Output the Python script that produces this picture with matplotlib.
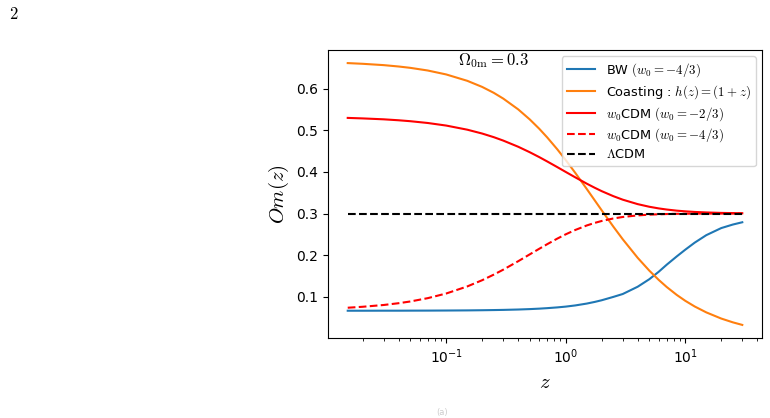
import matplotlib
matplotlib.use("Agg")
import matplotlib.pyplot as plt

plt.rcParams['mathtext.fontset'] = 'cm'

# redshift grid the curves were read at
z = [0.015, 0.02, 0.03, 0.04, 0.05, 0.07, 0.1, 0.15, 0.2, 0.25, 0.3, 0.4, 0.5, 0.6, 0.7, 0.85,
     1.0, 1.2, 1.5, 1.75, 2.0, 2.5, 3.0, 4.0, 5.0, 6.0, 7.0, 8.5, 10.0, 12.0, 15.0, 20.0, 25.0, 30.0]

om_bw = [0.0663, 0.0663, 0.0664, 0.0664, 0.0665, 0.0666, 0.0668, 0.0671, 0.0675, 0.0679, 0.0683,
         0.0692, 0.0702, 0.0713, 0.0725, 0.0743, 0.0762, 0.0790, 0.0835, 0.0875, 0.0915, 0.0995,
         0.1065, 0.1240, 0.1420, 0.1600, 0.1770, 0.1970, 0.2130, 0.2300, 0.2480, 0.2650, 0.2735,
         0.2790]
om_coast = [0.6617, 0.6600, 0.6568, 0.6535, 0.6503, 0.6439, 0.6344, 0.6191, 0.6044, 0.5902, 0.5764,
            0.5505, 0.5263, 0.5039, 0.4830, 0.4544, 0.4286, 0.3980, 0.3590, 0.3315, 0.3077, 0.2687,
            0.2381, 0.1935, 0.1628, 0.1404, 0.1233, 0.1042, 0.0902, 0.0765, 0.0623, 0.0475, 0.0384,
            0.0322]
om_w23 = [0.5299, 0.5287, 0.5265, 0.5242, 0.5220, 0.5177, 0.5115, 0.5016, 0.4923, 0.4836, 0.4754,
          0.4606, 0.4474, 0.4357, 0.4252, 0.4116, 0.4000, 0.3871, 0.3718, 0.3619, 0.3538, 0.3418,
          0.3333, 0.3226, 0.3163, 0.3123, 0.3096, 0.3069, 0.3053, 0.3038, 0.3026, 0.3015, 0.3010,
          0.3007]
om_w43 = [0.0735, 0.0758, 0.0801, 0.0844, 0.0885, 0.0965, 0.1077, 0.1247, 0.1397, 0.1531, 0.1650,
          0.1853, 0.2018, 0.2152, 0.2263, 0.2397, 0.2500, 0.2604, 0.2713, 0.2775, 0.2821, 0.2881,
          0.2917, 0.2955, 0.2973, 0.2982, 0.2988, 0.2993, 0.2995, 0.2997, 0.2998, 0.2999, 0.3000,
          0.3000]
om_lcdm = [0.3] * len(z)

fig = plt.figure(figsize=(7.7, 4.18), dpi=100)
ax = fig.add_axes([328 / 770, 1 - 338 / 418, 434 / 770, 288 / 418])

ax.plot(z, om_bw, color='#1f77b4', label=r'BW $(w_0=-4/3)$')
ax.plot(z, om_coast, color='#ff7f0e', label=r'Coasting : $h(z)=(1+z)$')
ax.plot(z, om_w23, color='red', label=r'$w_0$CDM $(w_0=-2/3)$')
ax.plot(z, om_w43, color='red', ls='--', label=r'$w_0$CDM $(w_0=-4/3)$')
ax.plot(z, om_lcdm, color='black', ls='--', label=r'$\Lambda$CDM')

ax.set_xscale('log')
ax.set_xlabel(r'$z$', fontsize=15)
ax.set_ylabel(r'$Om(z)$', fontsize=15)
ax.set_yticks([0.1, 0.2, 0.3, 0.4, 0.5, 0.6])
ax.text(0.381, 0.962, r'$\Omega_{0\rm m}=0.3$', transform=ax.transAxes,
        ha='center', va='center', fontsize=12)
ax.legend(loc='upper right', fontsize=9.3, handlelength=2.2, labelspacing=0.3)

fig.text(14 / 770, 1 - 14 / 418, r'$2$', fontsize=12, ha='center', va='center')
# caption mark at the very bottom edge, kept small and faint
fig.text(442 / 770, 0.5 / 418, '(a)', fontsize=6, ha='center', va='bottom', color='#cccccc')

fig.savefig('out.png', dpi=100)
